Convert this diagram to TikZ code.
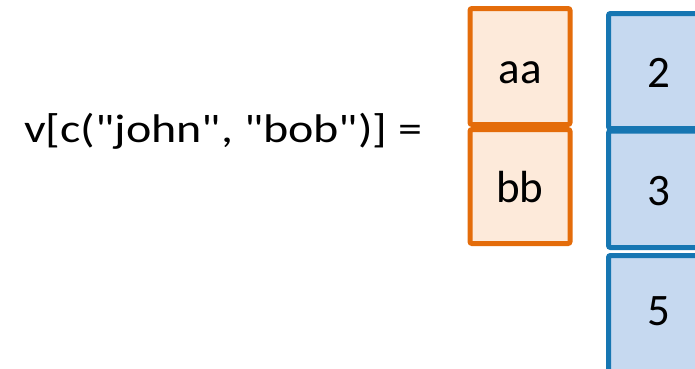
\documentclass[tikz,border=0pt]{standalone}
\usepackage{fontspec}
\setmainfont{Carlito}[Ligatures=TeXOff]
\begin{document}
\begin{tikzpicture}[x=1pt,y=-1pt,
  cell/.style={draw, line width=5pt, rounded corners=2pt, minimum width=100pt, inner sep=0pt},
  namecell/.style={cell, draw={rgb,255:red,228;green,108;blue,10}, fill={rgb,255:red,253;green,234;blue,218}},
  valcell/.style={cell, draw={rgb,255:red,22;green,118;blue,178}, fill={rgb,255:red,198;green,217;blue,240}},
  celltext/.style={anchor=base, inner sep=0pt, font=\fontsize{45}{54}\selectfont},
  exprtext/.style={anchor=base west, inner sep=0pt, xscale=1.2, transform shape, font=\fontsize{40}{48}\selectfont}]
\useasboundingbox (0,0) rectangle (695,368);
\clip (0,0) rectangle (695,368);
% expression on the left
\node[exprtext] (expr) at (24,142) {v[c("john", "bob")] =};
% selected names
\node[namecell, minimum height=116pt] (na) at (520,66.5) {};
\node[namecell, minimum height=114pt] (nb) at (520,186.5) {};
\node[celltext] (ta) at (na.center |- 0,83) {aa};
\node[celltext] (tb) at (nb.center |- 0,202) {bb};
% values
\node[valcell, minimum height=115pt] (v1) at (658.5,71) {};
\node[valcell, minimum height=116.5pt] (v2) at (658.5,189.25) {};
\node[valcell, minimum height=116.5pt] (v3) at (658.5,313.75) {};
\node[celltext] (t1) at (v1.center |- 0,87) {2};
\node[celltext] (t2) at (v2.center |- 0,205) {3};
\node[celltext] (t3) at (v3.center |- 0,325) {5};
\end{tikzpicture}
\end{document}
